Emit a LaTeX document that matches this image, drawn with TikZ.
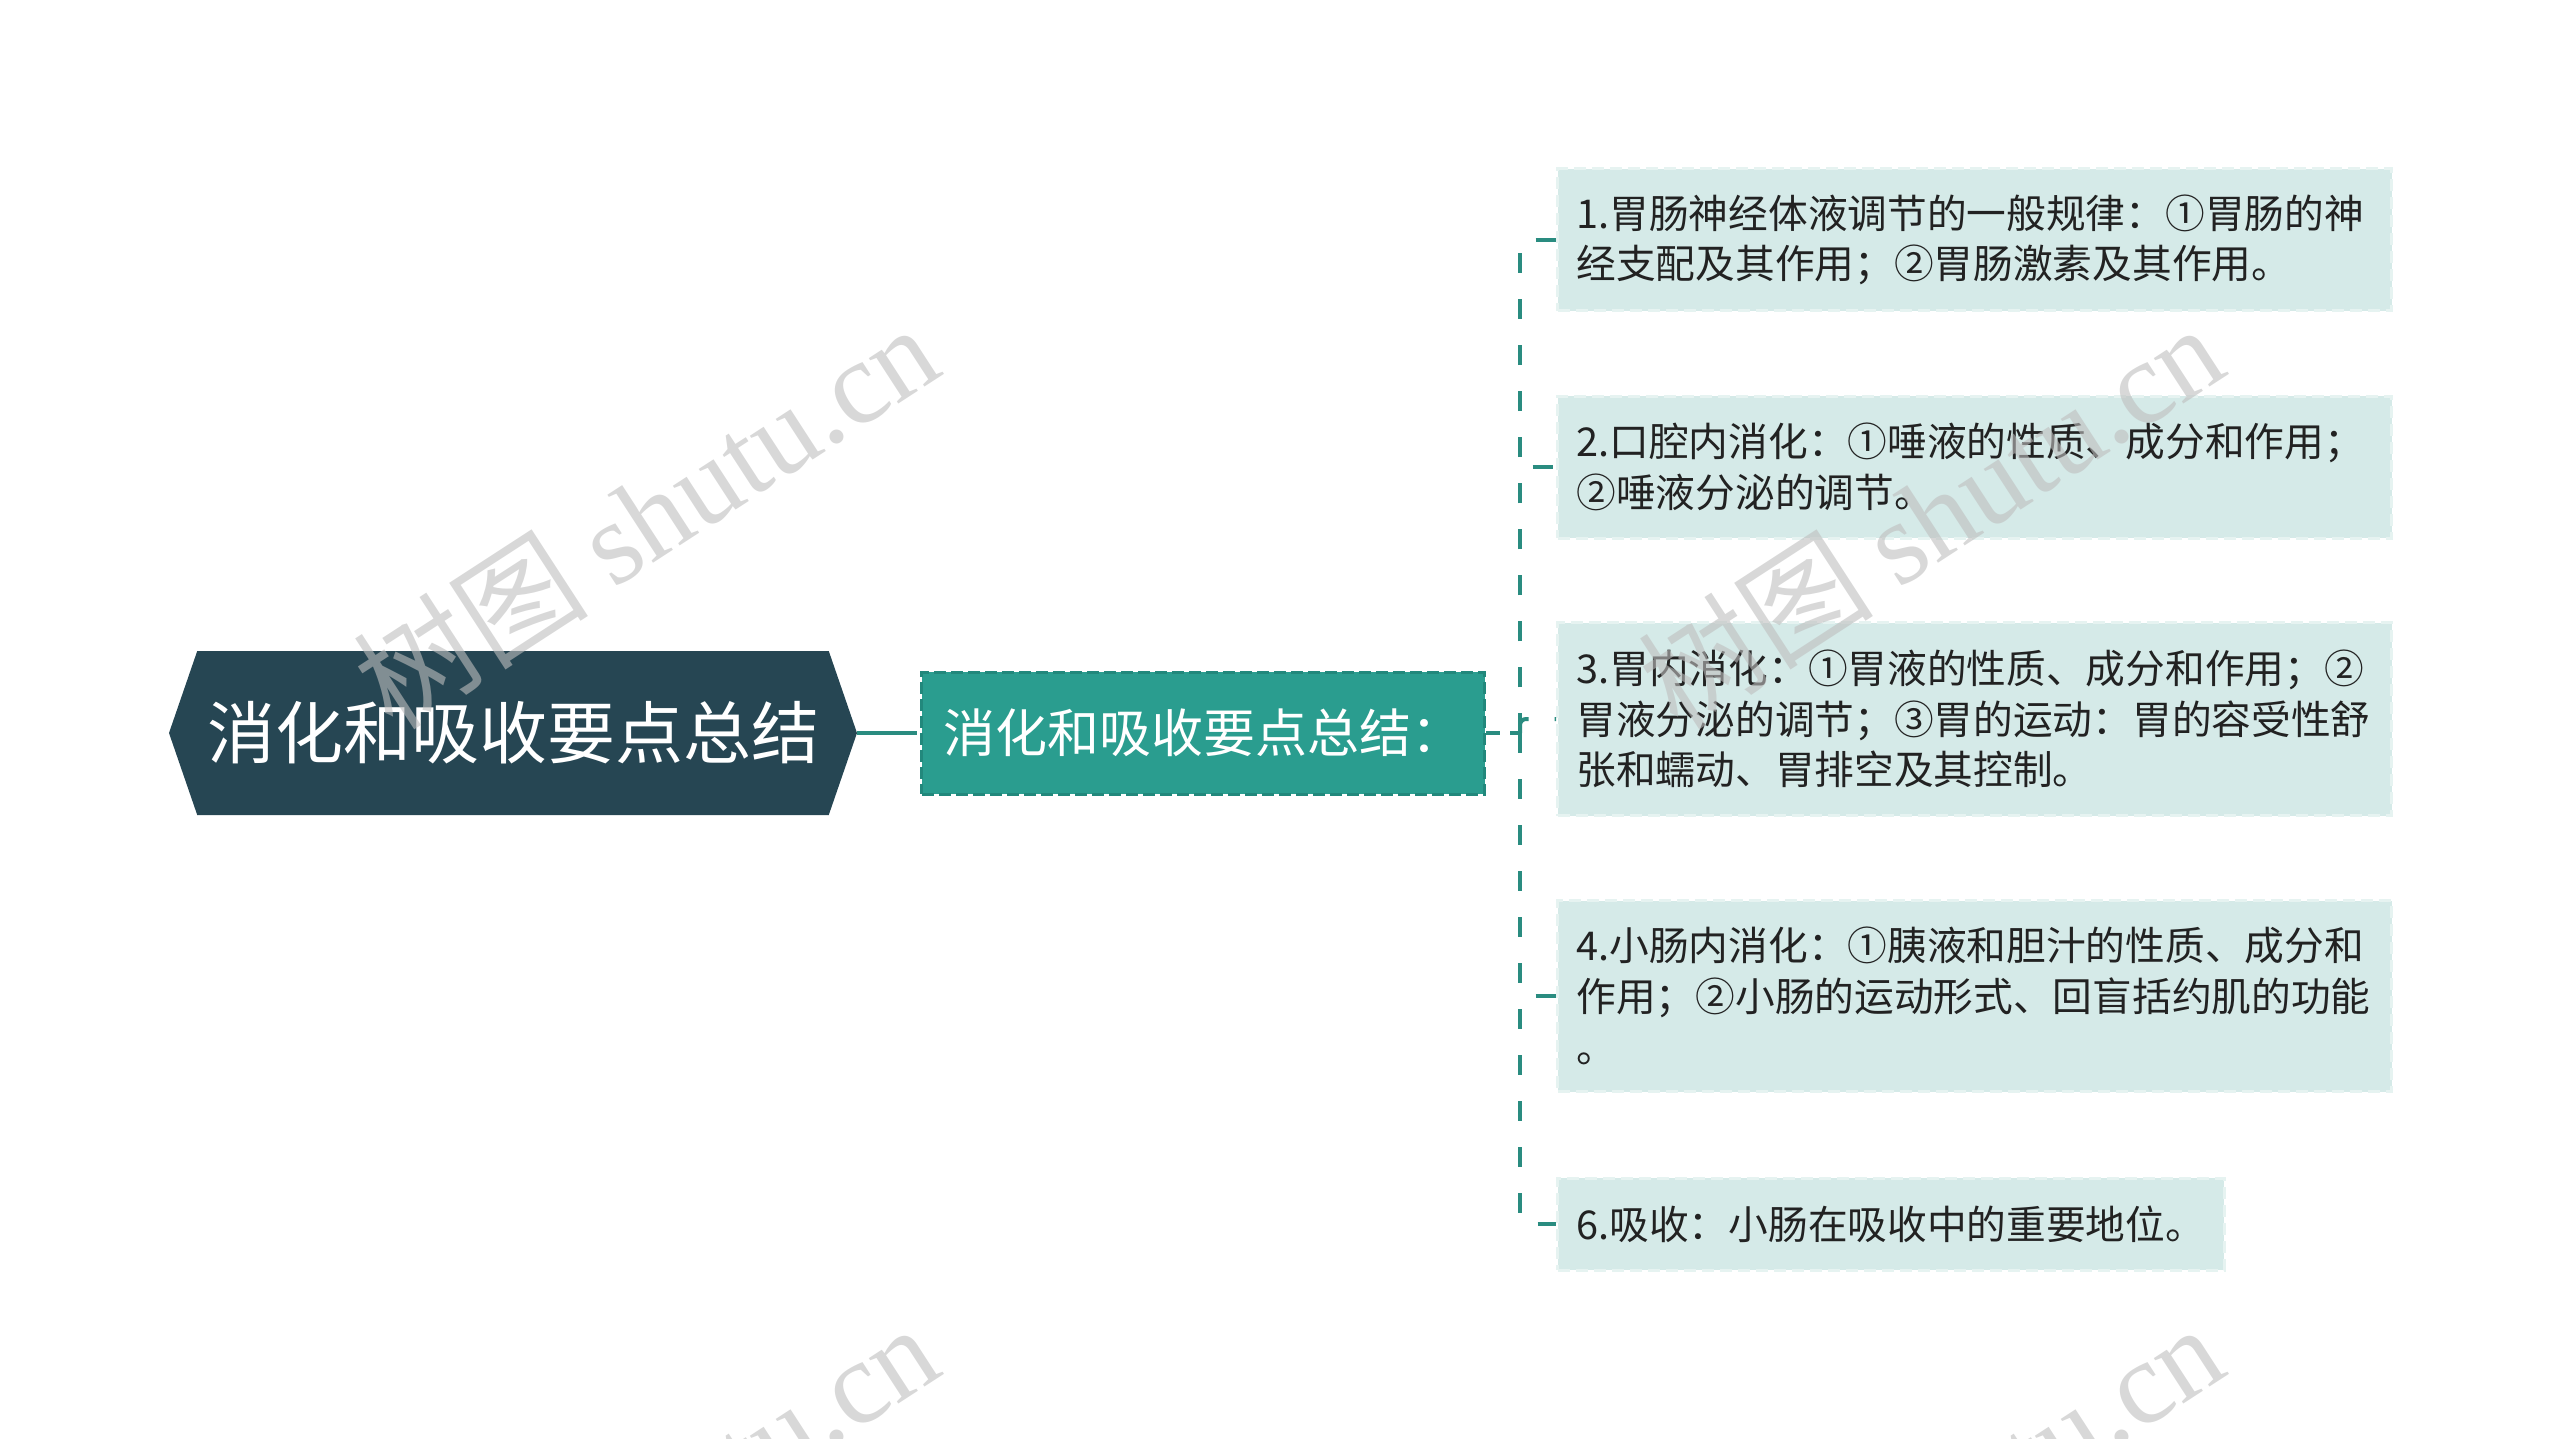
\documentclass[tikz,border=0pt]{standalone}
\usepackage{fontspec}
\setmainfont{Noto Sans CJK SC}
\newfontfamily\wmfont{Liberation Serif}
\usetikzlibrary{shapes.symbols}
\definecolor{rootfill}{HTML}{264653}
\definecolor{subfill}{HTML}{2A9D8F}
\definecolor{subedge}{HTML}{22887C}
\definecolor{leaffill}{HTML}{D5EAE8}
\definecolor{leafedge}{HTML}{E6F3F1}
\definecolor{linkcolor}{HTML}{2A8C80}
\definecolor{leaftext}{HTML}{222222}
\definecolor{wmgray}{HTML}{BEBEBE}
\begin{document}
\begin{tikzpicture}[x=1pt,y=-1pt]
        % Styles
        \tikzset{
            root/.style={signal,signal to=west and east,signal pointer angle=142,fill=rootfill,text=white,
                minimum width=688pt,minimum height=164pt,inner sep=0pt,font=\fontsize{68}{80}\selectfont},
            sub/.style={rectangle,fill=subfill,draw=subedge,line width=3pt,dash pattern=on 12pt off 5pt,
                text=white,minimum width=563pt,minimum height=122pt,font=\fontsize{52}{60}\selectfont},
            leaf/.style={rectangle,fill=leaffill,draw=leafedge,line width=3pt,dash pattern=on 12pt off 6pt,
                text=leaftext,anchor=west,inner xsep=19pt,inner ysep=0pt,align=left,font=\fontsize{39.7}{50.8}\selectfont},
            wide leaf/.style={leaf,text width=796pt},
            link/.style={draw=linkcolor,line width=4pt,dash pattern=on 20pt off 26pt,rounded corners=6pt},
            watermark/.style={text=wmgray,opacity=0.6,rotate=33,font=\fontsize{118}{118}\selectfont}
        }
        \useasboundingbox (0,0) rectangle (2560,1439);
        %root and summary
        \node[root] (root) at (513,733) {消化和吸收要点总结};
        \node[sub] (sub) at (1203,733) {消化和吸收要点总结：};
        \coordinate (trunk) at (1520,733);
        %points
        \node[wide leaf,minimum height=142pt] (l1) at (1556,240) {1.胃肠神经体液调节的一般规律：①胃肠的神\\经支配及其作用；②胃肠激素及其作用。};
        \node[wide leaf,minimum height=142pt] (l2) at (1556,467) {2.口腔内消化：①唾液的性质、成分和作用；\\②唾液分泌的调节。};
        \node[wide leaf,minimum height=193pt] (l3) at (1556,719) {3.胃内消化：①胃液的性质、成分和作用；②\\胃液分泌的调节；③胃的运动：胃的容受性舒\\张和蠕动、胃排空及其控制。};
        \node[wide leaf,minimum height=191pt] (l4) at (1556,996) {4.小肠内消化：①胰液和胆汁的性质、成分和\\作用；②小肠的运动形式、回盲括约肌的功能\\。};
        \node[leaf,minimum height=92pt] (l6) at (1556,1224) {6.吸收：小肠在吸收中的重要地位。};
        %links
        \draw[link,dash pattern=on 60pt off 15pt] (root.east) -- (sub.west);
        \draw[link,dash pattern=on 14pt off 10pt] (sub.east) -- (trunk);
        \foreach \leaf in {l1,l2,l3,l4,l6}
            \draw[link] (trunk) |- (\leaf.west);
        %watermarks
        \begin{scope}
            \clip (0,0) rectangle (2560,1439);
            \foreach \wx/\wy in {645/515,1930/515,645/1515,1930/1515}
                \node[watermark] (wm\wx) at (\wx,\wy) {树图 {\wmfont shutu.cn}};
        \end{scope}
\end{tikzpicture}
\end{document}
